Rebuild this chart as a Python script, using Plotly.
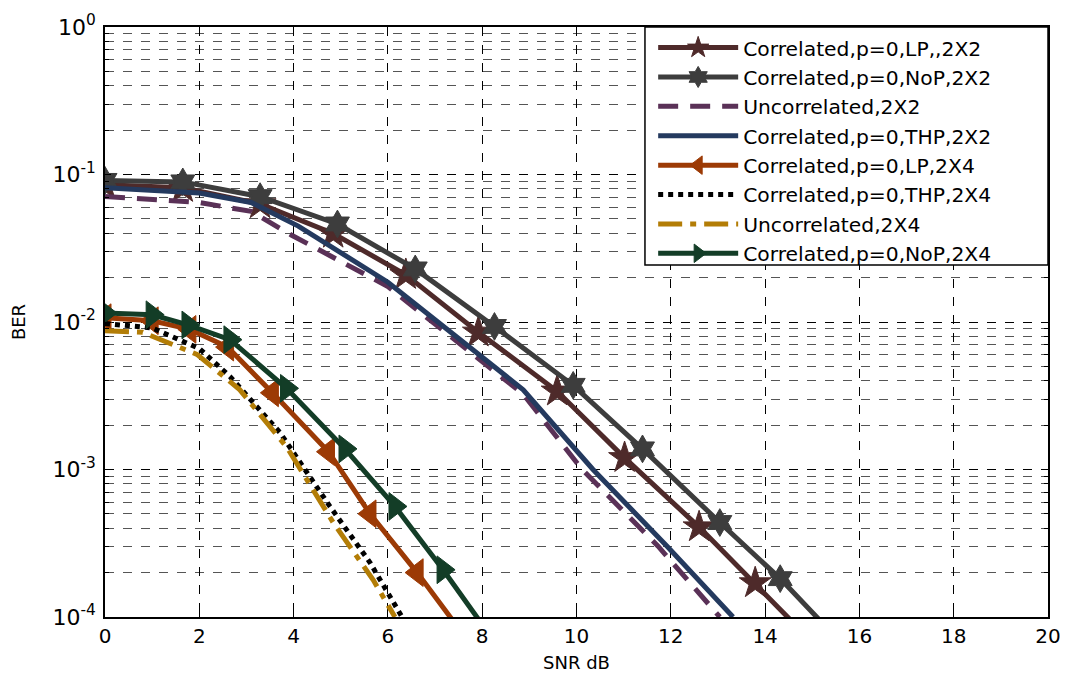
import plotly.graph_objects as go

# ---- data (SNR in dB, BER) ----
snr_lp22 = [0, 1.65, 3.29, 4.84, 6.38, 7.92, 9.59, 11.02, 12.6, 13.79, 15.0]
ber_lp22 = [0.0851, 0.0813, 0.0631, 0.0398, 0.0209, 0.00851, 0.00339, 0.00120, 0.000407, 0.000170, 0.0000676]

snr_nop22 = [0, 1.65, 3.29, 4.93, 6.58, 8.26, 9.93, 11.4, 13.04, 14.32, 15.6]
ber_nop22 = [0.0912, 0.0891, 0.0708, 0.0462, 0.0229, 0.00933, 0.00372, 0.00138, 0.000437, 0.000182, 0.0000676]

snr_unc22 = [0, 2.0, 3.1, 3.95, 6.0, 8.87, 10.12, 11.73, 13.04]
ber_unc22 = [0.0708, 0.0646, 0.0562, 0.0389, 0.0174, 0.00324, 0.001, 0.000302, 0.0001]

snr_thp22 = [0, 2.0, 3.1, 4.1, 6.0, 8.87, 10.35, 11.92, 13.32]
ber_thp22 = [0.0813, 0.0750, 0.0646, 0.0447, 0.0186, 0.00347, 0.001, 0.000302, 0.0001]

snr_lp24 = [0, 1.0, 1.8, 2.6, 3.55, 4.74, 5.62, 6.62, 7.6]
ber_lp24 = [0.0107, 0.0102, 0.00891, 0.00676, 0.00331, 0.00132, 0.000501, 0.000200, 0.0000759]

snr_thp24 = [0, 1.0, 2.0, 2.65, 3.71, 4.77, 5.62, 6.3]
ber_thp24 = [0.00977, 0.00912, 0.00661, 0.00427, 0.00178, 0.000562, 0.000234, 0.0001]

snr_unc24 = [0, 0.8, 1.95, 2.86, 3.86, 4.84, 5.69, 6.15]
ber_unc24 = [0.00871, 0.00851, 0.00603, 0.00347, 0.00141, 0.000437, 0.000178, 0.0001]

snr_nop24 = [0, 1.0, 1.76, 2.65, 3.85, 5.09, 6.15, 7.17, 8.2]
ber_nop24 = [0.0115, 0.0112, 0.00955, 0.00759, 0.00355, 0.00138, 0.000562, 0.000209, 0.0000724]

x_ticks = [0, 2, 4, 6, 8, 10, 12, 14, 16, 18, 20]
y_tickvals = [1e-4, 1e-3, 1e-2, 1e-1, 1]
y_ticktext = ["10<sup>-4</sup>", "10<sup>-3</sup>", "10<sup>-2</sup>", "10<sup>-1</sup>", "10<sup>0</sup>"]

FONT = "DejaVu Sans"
LW = 5

series = [
    ("Correlated,p=0,LP,,2X2", snr_lp22, ber_lp22, "#4e2a2a", "solid", "star", 24),
    ("Correlated,p=0,NoP,2X2", snr_nop22, ber_nop22, "#3d3d3d", "solid", "hexagram", 21),
    ("Uncorrelated,2X2", snr_unc22, ber_unc22, "#5a3157", "20px,12px", None, 0),
    ("Correlated,p=0,THP,2X2", snr_thp22, ber_thp22, "#243a5f", "solid", None, 0),
    ("Correlated,p=0,LP,2X4", snr_lp24, ber_lp24, "#9c3a05", "solid", "triangle-left", 24),
    ("Correlated,p=0,THP,2X4", snr_thp24, ber_thp24, "#000000", "5px,5px", None, 0),
    ("Uncorrelated,2X4", snr_unc24, ber_unc24, "#b37d06", "24px,8px,6px,8px", None, 0),
    ("Correlated,p=0,NoP,2X4", snr_nop24, ber_nop24, "#133d27", "solid", "triangle-right", 24),
]

fig = go.Figure()
for name, xs, ys, col, dash, sym, size in series:
    if sym:
        fig.add_trace(go.Scatter(
            x=xs, y=ys, name=name, mode="lines+markers",
            line=dict(color=col, width=LW, dash=dash),
            marker=dict(symbol=sym, size=size, color=col, line=dict(color=col, width=1)),
        ))
    else:
        fig.add_trace(go.Scatter(
            x=xs, y=ys, name=name, mode="lines",
            line=dict(color=col, width=LW, dash=dash),
        ))

# legend box (opaque white, black border)
fig.add_shape(type="rect", xref="paper", yref="paper",
              x0=0.5726, x1=1.0, y0=0.5966, y1=1.0,
              fillcolor="white", line=dict(color="black", width=1.5), layer="above")

# page body adds an 8px offset; margins compensate so the plot area sits at 105..1048 x 27..617
fig.update_layout(
    width=1068, height=675,
    margin=dict(l=97, r=28, t=19, b=66, autoexpand=False),
    paper_bgcolor="white", plot_bgcolor="white",
    font=dict(family=FONT, size=18, color="black"),
    showlegend=True,
    legend=dict(
        x=0.5813, y=0.9985, xanchor="left", yanchor="top",
        bgcolor="rgba(0,0,0,0)", borderwidth=0,
        font=dict(family=FONT, size=20.3, color="black"),
        itemwidth=80,
    ),
    xaxis=dict(
        range=[0, 20], tickvals=x_ticks, automargin=False,
        showline=True, linecolor="black", linewidth=1.5, mirror="allticks",
        ticks="inside", ticklen=6, tickcolor="black",
        showgrid=True, gridcolor="black", gridwidth=1, griddash="dash",
        zeroline=False,
        tickfont=dict(family=FONT, size=20),
        title=dict(text="SNR dB", font=dict(family=FONT, size=18), standoff=10),
    ),
    yaxis=dict(
        type="log", range=[-4, 0], automargin=False,
        tickvals=y_tickvals, ticktext=y_ticktext,
        showline=True, linecolor="black", linewidth=1.5, mirror="allticks",
        ticks="inside", ticklen=6, tickcolor="black",
        showgrid=True, gridcolor="black", gridwidth=1, griddash="dash",
        zeroline=False,
        ticklabelstandoff=3,
        tickfont=dict(family=FONT, size=22),
        minor=dict(dtick="D1", ticks="inside", ticklen=4, tickcolor="black",
                   showgrid=True, gridcolor="#555555", gridwidth=1, griddash="dash"),
        title=dict(text="BER", font=dict(family=FONT, size=18), standoff=22),
    ),
)

fig.write_html("out.html")
